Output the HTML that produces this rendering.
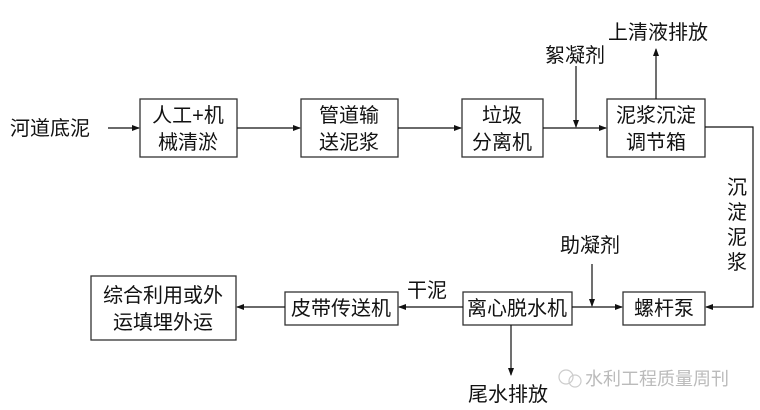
<!DOCTYPE html>
<html><head><meta charset="utf-8"><style>
html,body{margin:0;padding:0;background:#fff;width:760px;height:410px;overflow:hidden}
svg text{font-family:"Liberation Sans","Noto Sans CJK SC",sans-serif;font-size:20px;fill:#111}
</style></head><body>
<svg width="760" height="410" viewBox="0 0 760 410" xmlns="http://www.w3.org/2000/svg">
<defs><marker id="a" markerWidth="8" markerHeight="8" refX="7" refY="4" orient="auto" markerUnits="userSpaceOnUse"><path d="M0,1 L8,4 L0,7 Z" fill="#111"/></marker></defs>
<g fill="none" stroke="#333" stroke-width="1.3">
<rect x="140" y="99" width="97" height="58"/>
<rect x="301" y="99" width="97" height="58"/>
<rect x="462" y="99" width="81" height="58"/>
<rect x="607" y="99" width="98" height="58"/>
<rect x="623" y="292" width="82" height="33"/>
<rect x="463" y="292" width="109" height="33"/>
<rect x="285" y="292" width="113" height="33"/>
<rect x="91" y="276" width="145" height="64"/>
</g>
<g stroke="#111" stroke-width="1.2" fill="none">
<line x1="108" y1="128" x2="139" y2="128" marker-end="url(#a)"/>
<line x1="237" y1="128" x2="300" y2="128" marker-end="url(#a)"/>
<line x1="398" y1="128" x2="461" y2="128" marker-end="url(#a)"/>
<line x1="543" y1="128" x2="606" y2="128" marker-end="url(#a)"/>
<line x1="576" y1="66" x2="576" y2="127" marker-end="url(#a)"/>
<line x1="656" y1="99" x2="656" y2="49" marker-end="url(#a)"/>
<polyline points="705,127 753,127 753,307 706,307" marker-end="url(#a)"/>
<line x1="572" y1="307" x2="622" y2="307" marker-end="url(#a)"/>
<line x1="592" y1="264" x2="592" y2="306" marker-end="url(#a)"/>
<line x1="463" y1="307" x2="399" y2="307" marker-end="url(#a)"/>
<line x1="285" y1="307" x2="237" y2="307" marker-end="url(#a)"/>
<line x1="511" y1="325" x2="511" y2="375" marker-end="url(#a)"/>
</g>
<text x="10" y="135">河道底泥</text>
<text x="188" y="122" text-anchor="middle">人工+机</text>
<text x="188" y="149" text-anchor="middle">械清淤</text>
<text x="349" y="122" text-anchor="middle">管道输</text>
<text x="349" y="149" text-anchor="middle">送泥浆</text>
<text x="502" y="122" text-anchor="middle">垃圾</text>
<text x="502" y="149" text-anchor="middle">分离机</text>
<text x="656" y="122" text-anchor="middle">泥浆沉淀</text>
<text x="656" y="149" text-anchor="middle">调节箱</text>
<text x="545" y="62">絮凝剂</text>
<text x="608" y="39">上清液排放</text>
<text x="727" y="194">沉</text>
<text x="727" y="219">淀</text>
<text x="727" y="244">泥</text>
<text x="727" y="269">浆</text>
<text x="560" y="252">助凝剂</text>
<text x="664" y="315" text-anchor="middle">螺杆泵</text>
<text x="517" y="315" text-anchor="middle">离心脱水机</text>
<text x="341" y="315" text-anchor="middle">皮带传送机</text>
<text x="407" y="297">干泥</text>
<text x="163" y="302" text-anchor="middle">综合利用或外</text>
<text x="163" y="329" text-anchor="middle">运填埋外运</text>
<text x="468" y="401">尾水排放</text>
<text x="585" y="385" style="font-size:18px;fill:#bbb">水利工程质量周刊</text>
<circle cx="566" cy="377" r="7" fill="none" stroke="#ccc" stroke-width="1.2"/>
<circle cx="575" cy="381" r="6" fill="none" stroke="#ccc" stroke-width="1.2"/>
</svg>
</body></html>
